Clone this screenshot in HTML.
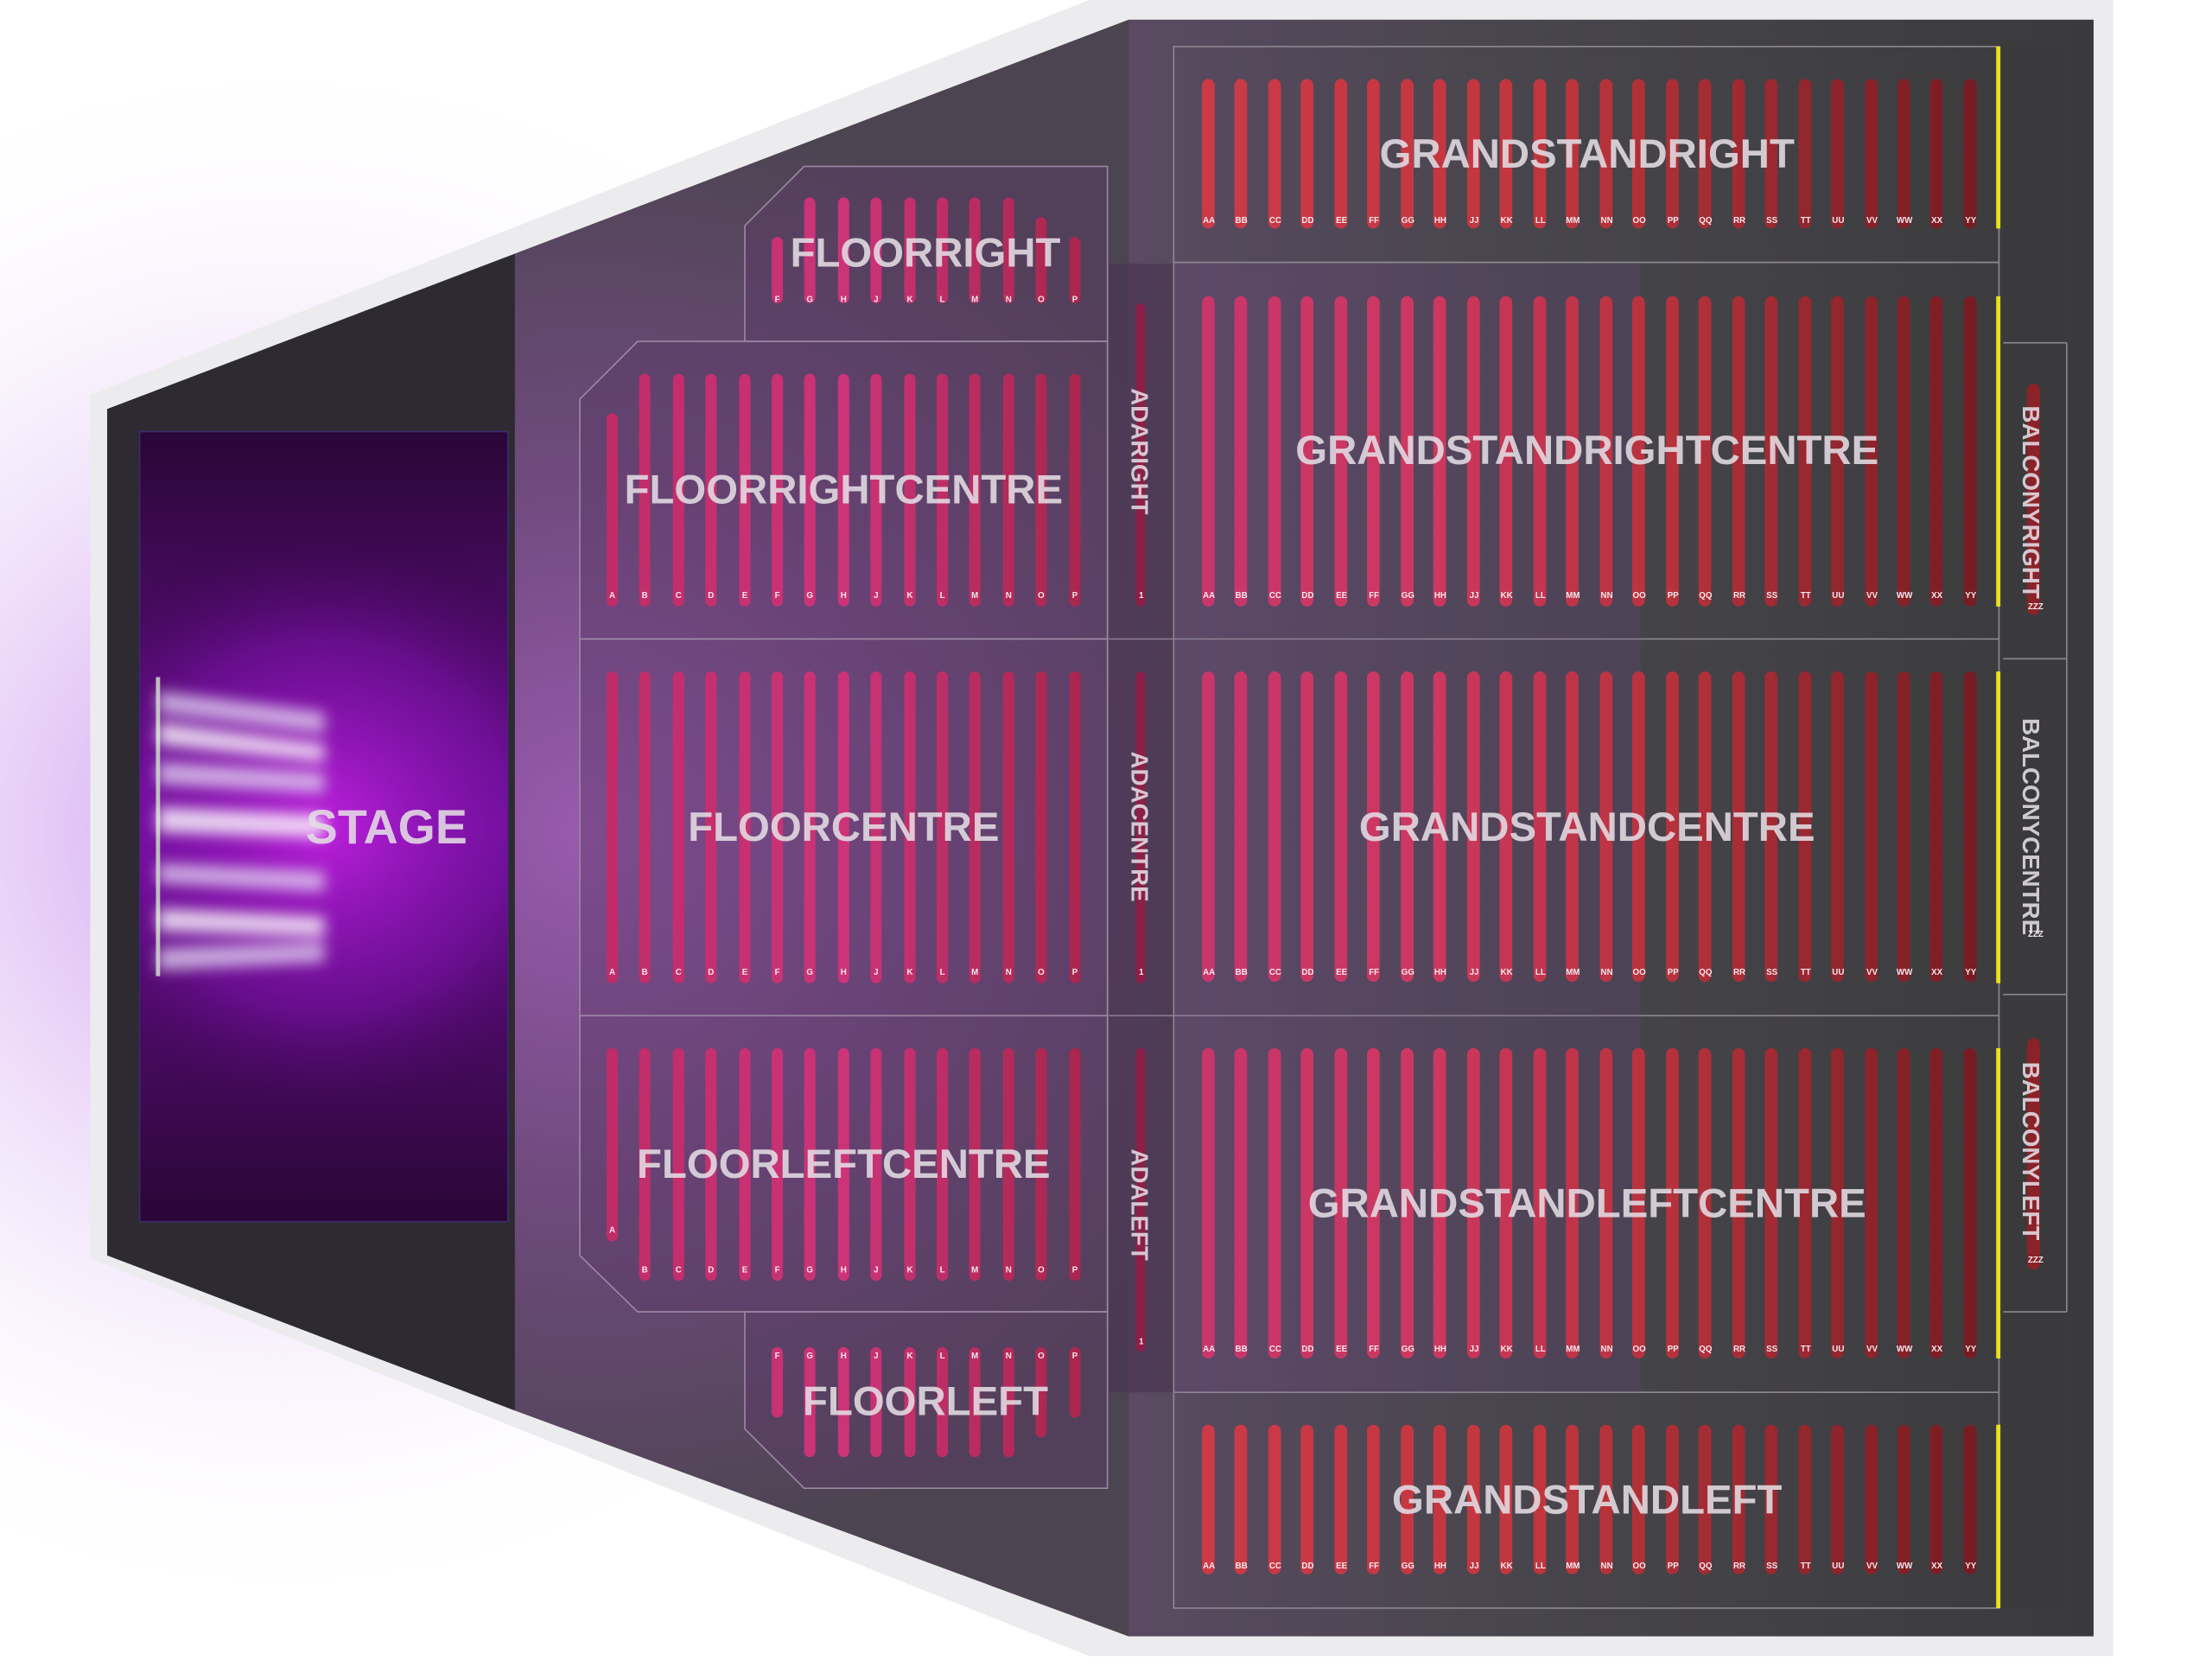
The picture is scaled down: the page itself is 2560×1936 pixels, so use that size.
<!DOCTYPE html>
<html><head><meta charset="utf-8"><style>
html,body{margin:0;padding:0;background:#fff;}
svg{display:block}
.sl{font-family:"Liberation Sans",sans-serif;font-weight:bold;fill:#e4dde4;fill-opacity:.88;text-anchor:middle}
.rl{font-family:"Liberation Sans",sans-serif;font-weight:bold;font-size:6px;fill:#f3e6ea;text-anchor:middle}
</style></head><body>
<svg width="2560" height="1936" viewBox="0 0 1568 1186" preserveAspectRatio="none" xmlns="http://www.w3.org/2000/svg">
<defs>
<radialGradient id="glow" cx="200" cy="590" r="560" gradientUnits="userSpaceOnUse">
<stop offset="0" stop-color="#a040e0" stop-opacity=".55"/><stop offset=".6" stop-color="#d0a0f0" stop-opacity=".18"/><stop offset="1" stop-color="#fff" stop-opacity="0"/></radialGradient>
<radialGradient id="floorg" cx="420" cy="590" r="520" gradientUnits="userSpaceOnUse">
<stop offset="0" stop-color="#9a5ab0"/><stop offset=".5" stop-color="#6e4a7c"/><stop offset="1" stop-color="#4c4450"/></radialGradient>
<linearGradient id="stageg" x1="0" y1="0" x2="0" y2="1">
<stop offset="0" stop-color="#2a0636"/><stop offset=".5" stop-color="#6a1090"/><stop offset="1" stop-color="#2a0636"/></linearGradient>
<radialGradient id="stager" cx="230" cy="586" r="220" gradientUnits="userSpaceOnUse">
<stop offset="0" stop-color="#c020e0" stop-opacity=".95"/><stop offset=".6" stop-color="#8010b0" stop-opacity=".5"/><stop offset="1" stop-color="#300040" stop-opacity="0"/></radialGradient>
<linearGradient id="gsg" x1="0" y1="0" x2="1" y2="0">
<stop offset="0" stop-color="#5a4a62"/><stop offset=".4" stop-color="#48464c"/><stop offset="1" stop-color="#3a3a3c"/></linearGradient>
<linearGradient id="gbar" x1="850" y1="0" x2="1400" y2="0" gradientUnits="userSpaceOnUse">
<stop offset="0" stop-color="#cc3a48"/><stop offset=".45" stop-color="#c0363e"/><stop offset="1" stop-color="#761c22"/></linearGradient>
<linearGradient id="gbar2" x1="850" y1="0" x2="1400" y2="0" gradientUnits="userSpaceOnUse">
<stop offset="0" stop-color="#c8366a"/><stop offset=".3" stop-color="#cc3860"/><stop offset=".6" stop-color="#b8323c"/><stop offset="1" stop-color="#761c22"/></linearGradient>
<linearGradient id="fbar" x1="430" y1="0" x2="770" y2="0" gradientUnits="userSpaceOnUse">
<stop offset="0" stop-color="#c02c68"/><stop offset=".5" stop-color="#cc3478"/><stop offset="1" stop-color="#a8264c"/></linearGradient>
<filter id="blur"><feGaussianBlur stdDeviation="5"/></filter>
</defs>
<rect width="1568" height="1186" fill="#fff"/>
<ellipse cx="220" cy="590" rx="520" ry="600" fill="url(#glow)"/>
<polygon points="64,280 772,0 1498,0 1498,1174 772,1174 64,892" fill="#ececee"/>
<polygon points="76,290 800,14 1484,14 1484,1160 800,1160 76,890" fill="#3c3a40"/>
<polygon points="76,290 365,180 365,1000 76,890" fill="#2e2a32"/>
<polygon points="365,180 800,14 800,1160 365,1000" fill="url(#floorg)"/>
<rect x="800" y="14" width="684" height="1146" fill="url(#gsg)"/>
<rect x="1420" y="33" width="45" height="1107" fill="#3a3a3d"/>
<!-- stage -->
<rect x="99" y="306" width="261" height="560" fill="url(#stageg)" stroke="#3a2a70" stroke-width="1"/>
<rect x="99" y="306" width="261" height="560" fill="url(#stager)"/>
<line x1="112" y1="480" x2="112" y2="692" stroke="#bbb" stroke-width="3"/>
<g filter="url(#blur)" fill="#e0d0f0" opacity=".8">
<polygon points="112,490 230,505 230,520 112,505"/><polygon points="112,512 230,528 230,540 112,528" fill="#fff"/>
<polygon points="112,540 230,548 230,562 112,556"/><polygon points="112,572 230,578 230,594 112,590" fill="#fff"/>
<polygon points="112,612 230,618 230,632 112,626"/><polygon points="112,644 230,650 230,664 112,660" fill="#fff"/>
<polygon points="112,672 230,668 230,682 112,688"/>
</g>
<text x="274" y="598" class="sl" font-size="34">STAGE</text>
<!-- ADA column -->
<rect x="786" y="187" width="46" height="800" fill="#4a3452" opacity=".7"/>
<line x1="786" y1="453" x2="832" y2="453" stroke="#8a7a90" stroke-width="1"/>
<line x1="786" y1="720" x2="832" y2="720" stroke="#8a7a90" stroke-width="1"/>
<g fill="#8a2048"><rect x="805" y="215" width="7" height="215" rx="3.5"/><rect x="805" y="476" width="7" height="221" rx="3.5"/><rect x="805" y="743" width="7" height="215" rx="3.5"/></g>
<g class="sl" font-size="17"><text transform="translate(802,320) rotate(90)">ADARIGHT</text><text transform="translate(802,586) rotate(90)">ADACENTRE</text><text transform="translate(802,854) rotate(90)">ADALEFT</text></g>
<g class="rl"><text x="809" y="424">1</text><text x="809" y="691">1</text><text x="809" y="953">1</text></g>
<!-- floor sections -->
<g fill="#5a3a66" fill-opacity=".45" stroke="#9c88a4" stroke-width="1">
<polygon points="528,160 570,118 785,118 785,242 528,242"/>
<polygon points="411,283 452,242 785,242 785,453 411,453"/>
<rect x="411" y="453" width="374" height="267"/>
<polygon points="411,720 785,720 785,930 452,930 411,890"/>
<polygon points="528,930 785,930 785,1055 570,1055 528,1013"/>
</g>
<g fill="url(#fbar)">
<rect x="430" y="293" width="8" height="137" rx="4"/>
<rect x="453" y="265" width="8" height="165" rx="4"/><rect x="477" y="265" width="8" height="165" rx="4"/><rect x="500" y="265" width="8" height="165" rx="4"/><rect x="524" y="265" width="8" height="165" rx="4"/><rect x="547" y="265" width="8" height="165" rx="4"/><rect x="570" y="265" width="8" height="165" rx="4"/><rect x="594" y="265" width="8" height="165" rx="4"/><rect x="617" y="265" width="8" height="165" rx="4"/><rect x="641" y="265" width="8" height="165" rx="4"/><rect x="664" y="265" width="8" height="165" rx="4"/><rect x="687" y="265" width="8" height="165" rx="4"/><rect x="711" y="265" width="8" height="165" rx="4"/><rect x="734" y="265" width="8" height="165" rx="4"/><rect x="758" y="265" width="8" height="165" rx="4"/>
<rect x="430" y="476" width="8" height="221" rx="4"/><rect x="453" y="476" width="8" height="221" rx="4"/><rect x="477" y="476" width="8" height="221" rx="4"/><rect x="500" y="476" width="8" height="221" rx="4"/><rect x="524" y="476" width="8" height="221" rx="4"/><rect x="547" y="476" width="8" height="221" rx="4"/><rect x="570" y="476" width="8" height="221" rx="4"/><rect x="594" y="476" width="8" height="221" rx="4"/><rect x="617" y="476" width="8" height="221" rx="4"/><rect x="641" y="476" width="8" height="221" rx="4"/><rect x="664" y="476" width="8" height="221" rx="4"/><rect x="687" y="476" width="8" height="221" rx="4"/><rect x="711" y="476" width="8" height="221" rx="4"/><rect x="734" y="476" width="8" height="221" rx="4"/><rect x="758" y="476" width="8" height="221" rx="4"/>
<rect x="430" y="743" width="8" height="137" rx="4"/>
<rect x="453" y="743" width="8" height="165" rx="4"/><rect x="477" y="743" width="8" height="165" rx="4"/><rect x="500" y="743" width="8" height="165" rx="4"/><rect x="524" y="743" width="8" height="165" rx="4"/><rect x="547" y="743" width="8" height="165" rx="4"/><rect x="570" y="743" width="8" height="165" rx="4"/><rect x="594" y="743" width="8" height="165" rx="4"/><rect x="617" y="743" width="8" height="165" rx="4"/><rect x="641" y="743" width="8" height="165" rx="4"/><rect x="664" y="743" width="8" height="165" rx="4"/><rect x="687" y="743" width="8" height="165" rx="4"/><rect x="711" y="743" width="8" height="165" rx="4"/><rect x="734" y="743" width="8" height="165" rx="4"/><rect x="758" y="743" width="8" height="165" rx="4"/>
<rect x="547" y="168" width="8" height="47" rx="4"/><rect x="570" y="140" width="8" height="75" rx="4"/><rect x="594" y="140" width="8" height="75" rx="4"/><rect x="617" y="140" width="8" height="75" rx="4"/><rect x="641" y="140" width="8" height="75" rx="4"/><rect x="664" y="140" width="8" height="75" rx="4"/><rect x="687" y="140" width="8" height="75" rx="4"/><rect x="711" y="140" width="8" height="75" rx="4"/><rect x="734" y="154" width="8" height="61" rx="4"/><rect x="758" y="168" width="8" height="47" rx="4"/>
<rect x="547" y="955" width="8" height="50" rx="4"/><rect x="570" y="955" width="8" height="78" rx="4"/><rect x="594" y="955" width="8" height="78" rx="4"/><rect x="617" y="955" width="8" height="78" rx="4"/><rect x="641" y="955" width="8" height="78" rx="4"/><rect x="664" y="955" width="8" height="78" rx="4"/><rect x="687" y="955" width="8" height="78" rx="4"/><rect x="711" y="955" width="8" height="78" rx="4"/><rect x="734" y="955" width="8" height="64" rx="4"/><rect x="758" y="955" width="8" height="50" rx="4"/>
</g>
<g class="rl">
<text y="424"><tspan x="434">A</tspan><tspan x="457">B</tspan><tspan x="481">C</tspan><tspan x="504">D</tspan><tspan x="528">E</tspan><tspan x="551">F</tspan><tspan x="574">G</tspan><tspan x="598">H</tspan><tspan x="621">J</tspan><tspan x="645">K</tspan><tspan x="668">L</tspan><tspan x="691">M</tspan><tspan x="715">N</tspan><tspan x="738">O</tspan><tspan x="762">P</tspan></text>
<text y="691"><tspan x="434">A</tspan><tspan x="457">B</tspan><tspan x="481">C</tspan><tspan x="504">D</tspan><tspan x="528">E</tspan><tspan x="551">F</tspan><tspan x="574">G</tspan><tspan x="598">H</tspan><tspan x="621">J</tspan><tspan x="645">K</tspan><tspan x="668">L</tspan><tspan x="691">M</tspan><tspan x="715">N</tspan><tspan x="738">O</tspan><tspan x="762">P</tspan></text>
<text x="434" y="874">A</text>
<text y="902"><tspan x="457">B</tspan><tspan x="481">C</tspan><tspan x="504">D</tspan><tspan x="528">E</tspan><tspan x="551">F</tspan><tspan x="574">G</tspan><tspan x="598">H</tspan><tspan x="621">J</tspan><tspan x="645">K</tspan><tspan x="668">L</tspan><tspan x="691">M</tspan><tspan x="715">N</tspan><tspan x="738">O</tspan><tspan x="762">P</tspan></text>
<text y="214"><tspan x="551">F</tspan><tspan x="574">G</tspan><tspan x="598">H</tspan><tspan x="621">J</tspan><tspan x="645">K</tspan><tspan x="668">L</tspan><tspan x="691">M</tspan><tspan x="715">N</tspan><tspan x="738">O</tspan><tspan x="762">P</tspan></text>
<text y="963"><tspan x="551">F</tspan><tspan x="574">G</tspan><tspan x="598">H</tspan><tspan x="621">J</tspan><tspan x="645">K</tspan><tspan x="668">L</tspan><tspan x="691">M</tspan><tspan x="715">N</tspan><tspan x="738">O</tspan><tspan x="762">P</tspan></text>
</g>
<g class="sl" font-size="29">
<text x="656" y="189">FLOORRIGHT</text>
<text x="598" y="357">FLOORRIGHTCENTRE</text>
<text x="598" y="596">FLOORCENTRE</text>
<text x="598" y="835">FLOORLEFTCENTRE</text>
<text x="656" y="1003">FLOORLEFT</text>
</g>
<!-- grandstand sections -->
<g fill="none" stroke="#8c8890" stroke-width="1">
<rect x="832" y="33" width="585" height="1107"/>
<line x1="832" y1="186" x2="1417" y2="186"/><line x1="832" y1="453" x2="1417" y2="453"/>
<line x1="832" y1="720" x2="1417" y2="720"/><line x1="832" y1="987" x2="1417" y2="987"/>
<line x1="1420" y1="243" x2="1465" y2="243"/><line x1="1420" y1="467" x2="1465" y2="467"/>
<line x1="1420" y1="705" x2="1465" y2="705"/><line x1="1420" y1="930" x2="1465" y2="930"/>
<line x1="1465" y1="243" x2="1465" y2="930"/>
</g>
<rect x="833" y="187" width="330" height="800" fill="#8040a0" opacity=".15"/>
<g fill="#e8e020"><rect x="1415" y="33" width="3" height="129"/><rect x="1415" y="210" width="3" height="220"/><rect x="1415" y="476" width="3" height="221"/><rect x="1415" y="743" width="3" height="220"/><rect x="1415" y="1010" width="3" height="130"/></g>
<g id="gr" fill="url(#gbar)">
<rect x="852" y="56" width="9" height="106" rx="4.5"/><rect x="875" y="56" width="9" height="106" rx="4.5"/><rect x="899" y="56" width="9" height="106" rx="4.5"/><rect x="922" y="56" width="9" height="106" rx="4.5"/><rect x="946" y="56" width="9" height="106" rx="4.5"/><rect x="969" y="56" width="9" height="106" rx="4.5"/><rect x="993" y="56" width="9" height="106" rx="4.5"/><rect x="1016" y="56" width="9" height="106" rx="4.5"/><rect x="1040" y="56" width="9" height="106" rx="4.5"/><rect x="1063" y="56" width="9" height="106" rx="4.5"/><rect x="1087" y="56" width="9" height="106" rx="4.5"/><rect x="1110" y="56" width="9" height="106" rx="4.5"/><rect x="1134" y="56" width="9" height="106" rx="4.5"/><rect x="1157" y="56" width="9" height="106" rx="4.5"/><rect x="1181" y="56" width="9" height="106" rx="4.5"/><rect x="1204" y="56" width="9" height="106" rx="4.5"/><rect x="1228" y="56" width="9" height="106" rx="4.5"/><rect x="1251" y="56" width="9" height="106" rx="4.5"/><rect x="1275" y="56" width="9" height="106" rx="4.5"/><rect x="1298" y="56" width="9" height="106" rx="4.5"/><rect x="1322" y="56" width="9" height="106" rx="4.5"/><rect x="1345" y="56" width="9" height="106" rx="4.5"/><rect x="1368" y="56" width="9" height="106" rx="4.5"/><rect x="1392" y="56" width="9" height="106" rx="4.5"/>
</g>
<g id="tall" fill="url(#gbar2)">
<rect x="852" y="210" width="9" height="220" rx="4.5"/><rect x="875" y="210" width="9" height="220" rx="4.5"/><rect x="899" y="210" width="9" height="220" rx="4.5"/><rect x="922" y="210" width="9" height="220" rx="4.5"/><rect x="946" y="210" width="9" height="220" rx="4.5"/><rect x="969" y="210" width="9" height="220" rx="4.5"/><rect x="993" y="210" width="9" height="220" rx="4.5"/><rect x="1016" y="210" width="9" height="220" rx="4.5"/><rect x="1040" y="210" width="9" height="220" rx="4.5"/><rect x="1063" y="210" width="9" height="220" rx="4.5"/><rect x="1087" y="210" width="9" height="220" rx="4.5"/><rect x="1110" y="210" width="9" height="220" rx="4.5"/><rect x="1134" y="210" width="9" height="220" rx="4.5"/><rect x="1157" y="210" width="9" height="220" rx="4.5"/><rect x="1181" y="210" width="9" height="220" rx="4.5"/><rect x="1204" y="210" width="9" height="220" rx="4.5"/><rect x="1228" y="210" width="9" height="220" rx="4.5"/><rect x="1251" y="210" width="9" height="220" rx="4.5"/><rect x="1275" y="210" width="9" height="220" rx="4.5"/><rect x="1298" y="210" width="9" height="220" rx="4.5"/><rect x="1322" y="210" width="9" height="220" rx="4.5"/><rect x="1345" y="210" width="9" height="220" rx="4.5"/><rect x="1368" y="210" width="9" height="220" rx="4.5"/><rect x="1392" y="210" width="9" height="220" rx="4.5"/>
</g>
<use href="#tall" y="266"/>
<use href="#tall" y="533"/>
<use href="#gr" y="954"/>
<g class="rl" font-size="6">
<text y="158"><tspan x="857">AA</tspan><tspan x="880">BB</tspan><tspan x="904">CC</tspan><tspan x="927">DD</tspan><tspan x="951">EE</tspan><tspan x="974">FF</tspan><tspan x="998">GG</tspan><tspan x="1021">HH</tspan><tspan x="1045">JJ</tspan><tspan x="1068">KK</tspan><tspan x="1092">LL</tspan><tspan x="1115">MM</tspan><tspan x="1139">NN</tspan><tspan x="1162">OO</tspan><tspan x="1186">PP</tspan><tspan x="1209">QQ</tspan><tspan x="1233">RR</tspan><tspan x="1256">SS</tspan><tspan x="1280">TT</tspan><tspan x="1303">UU</tspan><tspan x="1327">VV</tspan><tspan x="1350">WW</tspan><tspan x="1373">XX</tspan><tspan x="1397">YY</tspan></text>
<text y="424"><tspan x="857">AA</tspan><tspan x="880">BB</tspan><tspan x="904">CC</tspan><tspan x="927">DD</tspan><tspan x="951">EE</tspan><tspan x="974">FF</tspan><tspan x="998">GG</tspan><tspan x="1021">HH</tspan><tspan x="1045">JJ</tspan><tspan x="1068">KK</tspan><tspan x="1092">LL</tspan><tspan x="1115">MM</tspan><tspan x="1139">NN</tspan><tspan x="1162">OO</tspan><tspan x="1186">PP</tspan><tspan x="1209">QQ</tspan><tspan x="1233">RR</tspan><tspan x="1256">SS</tspan><tspan x="1280">TT</tspan><tspan x="1303">UU</tspan><tspan x="1327">VV</tspan><tspan x="1350">WW</tspan><tspan x="1373">XX</tspan><tspan x="1397">YY</tspan></text>
<text y="691"><tspan x="857">AA</tspan><tspan x="880">BB</tspan><tspan x="904">CC</tspan><tspan x="927">DD</tspan><tspan x="951">EE</tspan><tspan x="974">FF</tspan><tspan x="998">GG</tspan><tspan x="1021">HH</tspan><tspan x="1045">JJ</tspan><tspan x="1068">KK</tspan><tspan x="1092">LL</tspan><tspan x="1115">MM</tspan><tspan x="1139">NN</tspan><tspan x="1162">OO</tspan><tspan x="1186">PP</tspan><tspan x="1209">QQ</tspan><tspan x="1233">RR</tspan><tspan x="1256">SS</tspan><tspan x="1280">TT</tspan><tspan x="1303">UU</tspan><tspan x="1327">VV</tspan><tspan x="1350">WW</tspan><tspan x="1373">XX</tspan><tspan x="1397">YY</tspan></text>
<text y="958"><tspan x="857">AA</tspan><tspan x="880">BB</tspan><tspan x="904">CC</tspan><tspan x="927">DD</tspan><tspan x="951">EE</tspan><tspan x="974">FF</tspan><tspan x="998">GG</tspan><tspan x="1021">HH</tspan><tspan x="1045">JJ</tspan><tspan x="1068">KK</tspan><tspan x="1092">LL</tspan><tspan x="1115">MM</tspan><tspan x="1139">NN</tspan><tspan x="1162">OO</tspan><tspan x="1186">PP</tspan><tspan x="1209">QQ</tspan><tspan x="1233">RR</tspan><tspan x="1256">SS</tspan><tspan x="1280">TT</tspan><tspan x="1303">UU</tspan><tspan x="1327">VV</tspan><tspan x="1350">WW</tspan><tspan x="1373">XX</tspan><tspan x="1397">YY</tspan></text>
<text y="1112"><tspan x="857">AA</tspan><tspan x="880">BB</tspan><tspan x="904">CC</tspan><tspan x="927">DD</tspan><tspan x="951">EE</tspan><tspan x="974">FF</tspan><tspan x="998">GG</tspan><tspan x="1021">HH</tspan><tspan x="1045">JJ</tspan><tspan x="1068">KK</tspan><tspan x="1092">LL</tspan><tspan x="1115">MM</tspan><tspan x="1139">NN</tspan><tspan x="1162">OO</tspan><tspan x="1186">PP</tspan><tspan x="1209">QQ</tspan><tspan x="1233">RR</tspan><tspan x="1256">SS</tspan><tspan x="1280">TT</tspan><tspan x="1303">UU</tspan><tspan x="1327">VV</tspan><tspan x="1350">WW</tspan><tspan x="1373">XX</tspan><tspan x="1397">YY</tspan></text>
</g>
<g class="sl" font-size="29">
<text x="1125" y="119">GRANDSTANDRIGHT</text>
<text x="1125" y="329">GRANDSTANDRIGHTCENTRE</text>
<text x="1125" y="596">GRANDSTANDCENTRE</text>
<text x="1125" y="863">GRANDSTANDLEFTCENTRE</text>
<text x="1125" y="1073">GRANDSTANDLEFT</text>
</g>
<g fill="#8a2228"><rect x="1437" y="272" width="9" height="164" rx="4.5"/><rect x="1437" y="736" width="9" height="164" rx="4.5"/></g>
<g class="sl" font-size="17"><text transform="translate(1434,356) rotate(90)">BALCONYRIGHT</text><text transform="translate(1434,586) rotate(90)">BALCONYCENTRE</text><text transform="translate(1434,816) rotate(90)">BALCONYLEFT</text></g>
<g class="rl"><text x="1443" y="432">ZZZ</text><text x="1443" y="664">ZZZ</text><text x="1443" y="895">ZZZ</text></g>
</svg>
</body></html>
